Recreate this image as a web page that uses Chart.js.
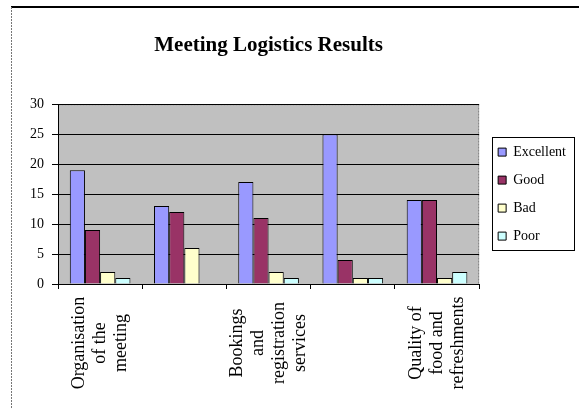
<!DOCTYPE html>
<html>
<head>
<meta charset="utf-8">
<script src="https://cdn.jsdelivr.net/npm/chart.js@4/dist/chart.umd.min.js"></script>
<style>
  html, body { margin: 0; padding: 0; background: #fff; }
  #wrap { width: 579px; height: 409px; }
</style>
</head>
<body>
<div id="wrap"><canvas id="chart" width="579" height="409"></canvas></div>
<script>
// categories (the 2nd and 4th labels are not shown in the original)
const categories = [
  ['Organisation', 'of the', 'meeting'],
  '',
  ['Bookings', 'and', 'registration', 'services'],
  '',
  ['Quality of', 'food and', 'refreshments']
];
const seriesNames = ['Excellent', 'Good', 'Bad', 'Poor'];
const seriesColors = ['#9999FF', '#993366', '#FFFFCC', '#CCFFFF'];
const excellent = [19, 13, 17, 25, 14];
const good = [9, 12, 11, 4, 14];
const bad = [2, 6, 2, 1, 1];
const poor = [1, 0, 1, 1, 2];
const yMax = 30;
const yStep = 5;

const serif = '"Liberation Serif", "DejaVu Serif", serif';

// white page with the thin frame on top and left
const framePlugin = {
  id: 'frame',
  beforeDraw(chart) {
    const c = chart.ctx;
    c.save();
    c.fillStyle = '#fff';
    c.fillRect(0, 0, chart.width, chart.height);
    c.strokeStyle = '#000';
    c.lineWidth = 2;
    c.beginPath();
    c.moveTo(11, 7);
    c.lineTo(chart.width, 7);
    c.stroke();
    c.strokeStyle = '#777';
    c.lineWidth = 1;
    c.setLineDash([2, 1]);
    c.beginPath();
    c.moveTo(11.5, 7);
    c.lineTo(11.5, chart.height);
    c.stroke();
    c.restore();
  }
};

// gray plot area
const plotBg = {
  id: 'plotBg',
  beforeDraw(chart) {
    const a = chart.chartArea;
    const c = chart.ctx;
    c.save();
    c.fillStyle = '#C0C0C0';
    c.fillRect(a.left, a.top, a.right - a.left, a.bottom - a.top);
    c.strokeStyle = '#808080';
    c.lineWidth = 1;
    c.setLineDash([2, 1]);
    c.strokeRect(a.left + 0.5, a.top + 0.5, a.right - a.left - 1, a.bottom - a.top);
    c.restore();
  }
};

// nudge the legend a bit away from the plot
const legendShift = {
  id: 'legendShift',
  afterLayout(chart) {
    chart.legend.left += 5;
    chart.legend.right += 5;
  }
};

// box around the legend
const legendBox = {
  id: 'legendBox',
  afterDraw(chart) {
    const boxes = chart.legend.legendHitBoxes;
    if (!boxes || !boxes.length) return;
    let l = Infinity, t = Infinity, r = -Infinity, b = -Infinity;
    boxes.forEach(h => {
      l = Math.min(l, h.left); t = Math.min(t, h.top);
      r = Math.max(r, h.left + h.width); b = Math.max(b, h.top + h.height);
    });
    const c = chart.ctx;
    c.save();
    c.strokeStyle = '#000';
    c.lineWidth = 1;
    c.strokeRect(Math.round(l - 6) + 0.5, Math.round(t - 8) + 0.5, Math.round(r - l + 14), Math.round(b - t + 15));
    c.restore();
  }
};

// vertical category labels, each line centred like in the original
const xLabels = {
  id: 'xLabels',
  afterDraw(chart) {
    const sx = chart.scales.x;
    const c = chart.ctx;
    const lh = 21;
    c.save();
    c.fillStyle = '#000';
    c.font = '18px ' + serif;
    c.textAlign = 'center';
    c.textBaseline = 'middle';
    categories.forEach((lab, i) => {
      const lines = Array.isArray(lab) ? lab : [lab];
      const cx = sx.getPixelForTick(i);
      const cy = sx.top + 59;
      c.save();
      c.translate(cx, cy);
      c.rotate(-Math.PI / 2);
      lines.forEach((s, k) => {
        c.fillText(s, 0, (k - (lines.length - 1) / 2) * lh);
      });
      c.restore();
    });
    c.restore();
  }
};

const values = [excellent, good, bad, poor];

new Chart(document.getElementById('chart'), {
  type: 'bar',
  data: {
    labels: categories,
    datasets: seriesNames.map((name, i) => ({
      label: name,
      data: values[i],
      backgroundColor: seriesColors[i],
      borderColor: '#000',
      borderWidth: 1,
      borderSkipped: 'start',
      categoryPercentage: 0.72,
      barPercentage: 1
    }))
  },
  options: {
    responsive: false,
    animation: false,
    layout: { padding: { left: 22, right: 8, top: 0, bottom: 120 } },
    plugins: {
      title: {
        display: true,
        text: 'Meeting Logistics Results',
        fullSize: false,
        color: '#000',
        font: { family: serif, size: 21, weight: 'bold' },
        padding: { top: 33, bottom: 46 }
      },
      legend: {
        position: 'right',
        fullSize: false,
        labels: {
          color: '#000',
          font: { family: serif, size: 14 },
          boxWidth: 8,
          boxHeight: 8,
          padding: 14,
          generateLabels(chart) {
            return chart.data.datasets.map((ds, i) => ({
              text: ds.label,
              fillStyle: ds.backgroundColor,
              strokeStyle: '#000',
              lineWidth: 1,
              datasetIndex: i
            }));
          }
        }
      },
      tooltip: { enabled: false }
    },
    scales: {
      x: {
        grid: { offset: true, drawOnChartArea: false, drawTicks: true, tickLength: 5, color: '#000' },
        border: { color: '#000', width: 1 },
        ticks: { display: false, autoSkip: false }
      },
      y: {
        min: 0,
        max: yMax,
        grid: { color: '#000', tickLength: 6, lineWidth: 1 },
        border: { color: '#000', width: 1 },
        ticks: {
          stepSize: yStep,
          color: '#000',
          padding: 8,
          font: { family: serif, size: 14 }
        }
      }
    }
  },
  plugins: [framePlugin, plotBg, legendShift, legendBox, xLabels]
});
</script>
</body>
</html>
